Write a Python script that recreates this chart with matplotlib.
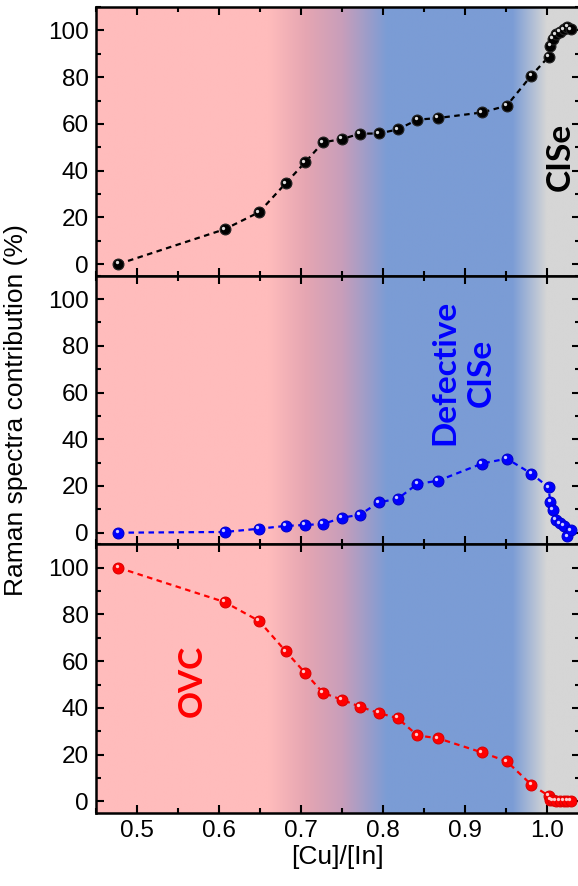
import numpy as np
import matplotlib
matplotlib.use("Agg")
import matplotlib.pyplot as plt
from matplotlib.ticker import MultipleLocator
from matplotlib.transforms import ScaledTranslation

# ==========================================================
# DATA
# ==========================================================

cu_in = [0.4775, 0.607, 0.649, 0.6815, 0.705, 0.727, 0.750, 0.772, 0.795,
         0.818, 0.842, 0.867, 0.921, 0.951, 0.981,
         1.002, 1.004, 1.007, 1.011, 1.016, 1.021, 1.025, 1.029]

cise = [0, 14.9, 22.2, 34.6, 43.5, 52.1, 53.5, 55.8, 55.9,
        57.6, 61.8, 62.5, 64.9, 67.8, 80.7,
        88.7, 93.5, 96.5, 98.3, 99.3, 100.5, 101.5, 100.5]

defective = [0, 0.3, 1.7, 2.9, 3.3, 3.7, 6.4, 7.7, 13.0,
             14.5, 20.9, 22.2, 29.6, 31.7, 25.3,
             19.4, 13.2, 9.7, 5.4, 4.0, 3.0, -1.5, 1.0]

ovc = [100, 85.3, 77.2, 64.2, 55.0, 46.4, 43.5, 40.5, 37.8,
       35.6, 28.2, 27.0, 20.9, 17.1, 7.1,
       2.4, 0.5, 0.4, 0.3, 0.3, 0.3, 0.3, 0.3]

y_ticks = [0, 20, 40, 60, 80, 100]
x_ticks = [0.5, 0.6, 0.7, 0.8, 0.9, 1.0]
x_ticklabels = ["0.5", "0.6", "0.7", "0.8", "0.9", "1.0"]

# ==========================================================
# STYLE
# ==========================================================

plt.rcParams["font.family"] = ["Liberation Sans", "DejaVu Sans"]

XMIN, XMAX = 0.45, 1.04
YMIN, YMAX = -5, 110

# background gradient stops (x position, rgb)
bg_x = [XMIN, 0.660, 0.705, 0.750, 0.805, 0.958, 1.0, XMAX]
bg_rgb = [(255, 188, 188), (255, 188, 188), (230, 166, 178), (200, 158, 186),
          (123, 156, 213), (123, 156, 213), (214, 214, 214), (214, 214, 214)]


def background(ax):
    xs = np.linspace(XMIN, XMAX, 800)
    rgb = np.array(bg_rgb, dtype=float) / 255.0
    img = np.stack([np.interp(xs, bg_x, rgb[:, k]) for k in range(3)], axis=-1)
    ax.imshow(img[None, :, :], extent=[XMIN, XMAX, YMIN, YMAX],
              aspect="auto", zorder=0, interpolation="bilinear")


def ball_series(ax, fig, x, y, color, edge, shine):
    ax.plot(x, y, ls=(0, (2.5, 2)), lw=1.6, color=color, zorder=2)
    ax.plot(x, y, "o", ms=7.8, mfc=color, mec=edge, mew=0.8, zorder=3)
    shift = ScaledTranslation(-1.2 / 72, 1.2 / 72, fig.dpi_scale_trans)
    ax.plot(x, y, "o", ms=2.4, mfc=shine, mec="none", zorder=4,
            transform=ax.transData + shift)


fig = plt.figure(figsize=(5.78, 8.86), dpi=100)
axes = fig.subplots(3, 1, sharex=True)
fig.subplots_adjust(left=0.166, right=1.003, top=0.992, bottom=0.0824, hspace=0)

series = [
    (cise, "black", "#222222", "#dddddd"),
    (defective, "#0000ff", "#0000cc", "#ccccff"),
    (ovc, "#ff0000", "#dd0000", "#ffcccc"),
]

for ax, (vals, col, edge, shine) in zip(axes, series):
    background(ax)
    ball_series(ax, fig, cu_in, vals, col, edge, shine)
    ax.set_xlim(XMIN, XMAX)
    ax.set_ylim(YMIN, YMAX)
    ax.set_yticks(y_ticks)
    ax.yaxis.set_minor_locator(MultipleLocator(10))
    ax.set_xticks(x_ticks)
    ax.xaxis.set_minor_locator(MultipleLocator(0.05))
    ax.tick_params(which="both", direction="in", top=True, right=True, width=1.5)
    ax.tick_params(which="major", length=6, labelsize=17.5, pad=5)
    ax.tick_params(which="minor", length=3.5)
    for sp in ax.spines.values():
        sp.set_linewidth(1.8)

axes[2].set_xticklabels(x_ticklabels)
axes[2].set_xlabel("[Cu]/[In]", fontsize=19, labelpad=2)
axes[1].set_ylabel("Raman spectra contribution (%)", fontsize=19)
axes[1].yaxis.set_label_coords(-0.14, 0.5)

# region labels
label_font = dict(family=["Lato", "DejaVu Sans"], fontweight="bold",
                  fontsize=24, rotation=90, ha="center", va="center")
axes[0].text(1.0165, 46, "CISe", color="black", **label_font)
axes[1].text(0.898, 68.5, "Defective\nCISe", color="#0000ff",
             multialignment="center", linespacing=1.3, **label_font)
axes[2].text(0.567, 51.5, "OVC", color="#ff0000", **label_font)

fig.savefig("out.png", dpi=100)
